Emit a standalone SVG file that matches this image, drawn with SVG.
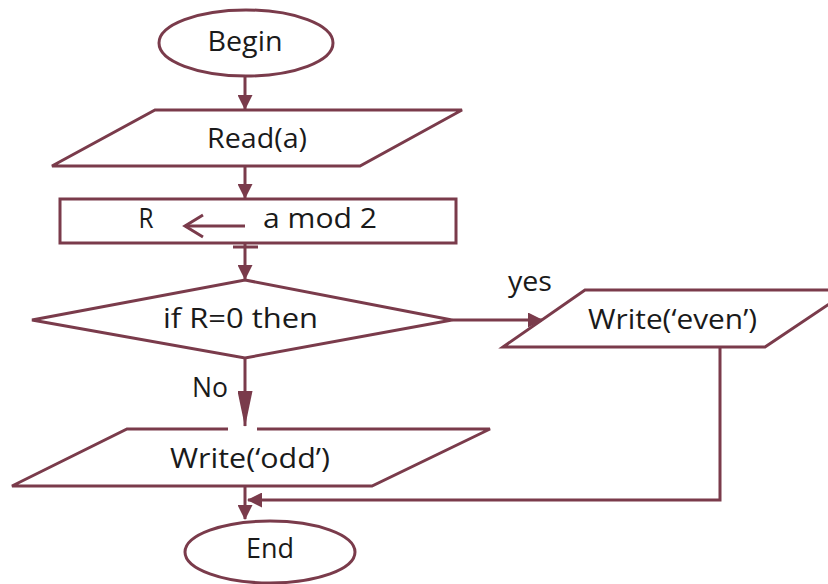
<svg xmlns="http://www.w3.org/2000/svg" width="828" height="584" viewBox="0 0 828 584">
<style>
.s{fill:#fff;stroke:#7a3b4b;stroke-width:3;stroke-linejoin:miter}
.c{fill:none;stroke:#7a3b4b;stroke-width:3}
.t{font-family:"Open Sans","Noto Sans",sans-serif;font-size:27px;fill:#1a1a1a;text-anchor:middle}
</style>
<defs>
<marker id="a" markerWidth="15" markerHeight="15" refX="14" refY="7.5" orient="auto" markerUnits="userSpaceOnUse">
<path d="M0,0 L15,7.5 L0,15 Z" fill="#7a3b4b"/>
</marker>
<marker id="n" markerWidth="36" markerHeight="15" refX="35" refY="7.5" orient="auto" markerUnits="userSpaceOnUse">
<path d="M0,0 L36,7.5 L0,15 Z" fill="#7a3b4b"/>
</marker>
</defs>
<rect width="828" height="584" fill="#fff"/>
<g id="begin">
<ellipse class="s" cx="246" cy="43" rx="87" ry="33"/>
<text class="t" x="245" y="51" textLength="75" lengthAdjust="spacingAndGlyphs">Begin</text>
</g>
<g id="read">
<polygon class="s" points="155,110 462,110 360,166 52,166"/>
<text class="t" x="257" y="148" textLength="100" lengthAdjust="spacingAndGlyphs">Read(a)</text>
</g>
<g id="assign">
<rect class="s" x="60" y="199" width="396" height="44"/>
<text class="t" x="146" y="228" textLength="15" lengthAdjust="spacingAndGlyphs">R</text>
<text class="t" x="320" y="228" textLength="114" lengthAdjust="spacingAndGlyphs">a mod 2</text>
<line class="c" x1="245" y1="226" x2="185" y2="226"/>
<polyline class="c" points="203,215 185,226 203,237"/>
</g>
<g id="decision">
<polygon class="s" points="245,280 452,320 245,358 32,320"/>
<text class="t" x="240.5" y="328" textLength="155" lengthAdjust="spacingAndGlyphs">if R=0 then</text>
</g>
<g id="even">
<polygon class="s" points="585,290 850,290 765,347 503,347"/>
<text class="t" x="672.5" y="329" textLength="169" lengthAdjust="spacingAndGlyphs">Write(‘even’)</text>
</g>
<g id="odd">
<polygon class="s" points="127,429 490,429 372,486 12,486"/>
<rect x="228" y="426" width="29" height="6" fill="#fff"/>
<text class="t" x="250" y="468" textLength="160" lengthAdjust="spacingAndGlyphs">Write(‘odd’)</text>
</g>
<g id="end">
<ellipse class="s" cx="270" cy="552" rx="85" ry="31"/>
<text class="t" x="270" y="558" textLength="48" lengthAdjust="spacingAndGlyphs">End</text>
</g>
<g id="connectors">
<line class="c" x1="245" y1="76" x2="245" y2="109" marker-end="url(#a)"/>
<line class="c" x1="245" y1="166" x2="245" y2="198" marker-end="url(#a)"/>
<line class="c" x1="233" y1="247" x2="258" y2="247"/>
<line class="c" x1="245" y1="244" x2="245" y2="279" marker-end="url(#a)"/>
<line class="c" x1="452" y1="320" x2="542" y2="320" marker-end="url(#a)"/>
<line class="c" x1="245" y1="358" x2="245" y2="426" marker-end="url(#n)"/>
<line class="c" x1="245" y1="487" x2="245" y2="519" marker-end="url(#a)"/>
<polyline class="c" points="720,347 720,500 248,500" marker-end="url(#a)"/>
<text class="t" x="530" y="291" textLength="44" lengthAdjust="spacingAndGlyphs">yes</text>
<text class="t" x="210" y="397" textLength="36" lengthAdjust="spacingAndGlyphs">No</text>
</g>
</svg>
